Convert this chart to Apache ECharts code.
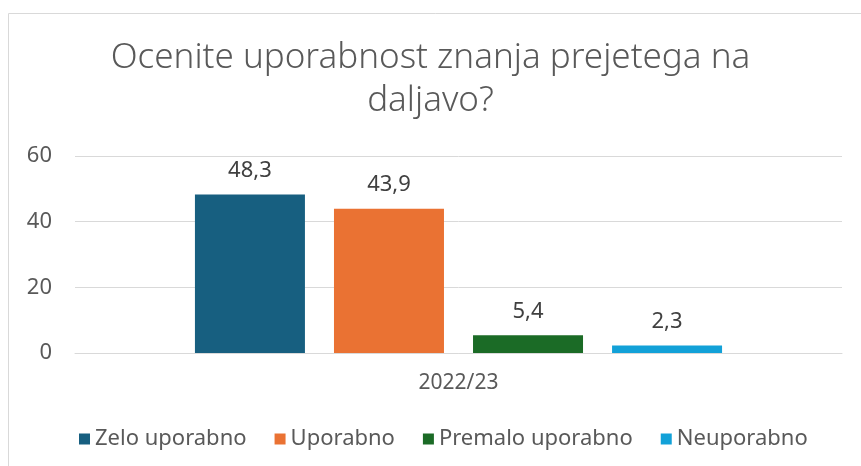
<!DOCTYPE html>
<html>
<head>
<meta charset="utf-8">
<script src="https://cdn.jsdelivr.net/npm/echarts@6/dist/echarts.min.js"></script>
<style>
  html, body { margin: 0; padding: 0; background: #fff; }
  #chart { width: 861px; height: 466px; }
</style>
</head>
<body>
<div id="chart"></div>
<script>
// Survey: usefulness of knowledge acquired through distance learning
const titleText = 'Ocenite uporabnost znanja prejetega na\ndaljavo?';
const categories = ['2022/23'];
const seriesNames = ['Zelo uporabno', 'Uporabno', 'Premalo uporabno', 'Neuporabno'];
const seriesValues = [[48.3], [43.9], [5.4], [2.3]];
const seriesColors = ['#175f80', '#ea7233', '#1b6b26', '#12a1d8'];
const yTicks = { min: 0, max: 60, interval: 20 };

const chart = echarts.init(document.getElementById('chart'), null, { renderer: 'canvas' });
const fontMain = '"Noto Sans", sans-serif';

const fmt = v => String(v).replace('.', ',');

chart.setOption({
  animation: false,
  textStyle: { fontFamily: fontMain },
  graphic: [{
    type: 'rect',
    shape: { x: 8.5, y: 13.5, width: 880, height: 480 },
    style: { fill: 'none', stroke: '#d9d9d9', lineWidth: 1 },
    silent: true
  }],
  title: {
    text: titleText,
    left: 'center',
    top: 32,
    textStyle: {
      fontFamily: fontMain,
      fontSize: 35,
      fontWeight: 300,
      color: '#595959',
      lineHeight: 43
    }
  },
  legend: {
    bottom: 11,
    left: 74,
    itemWidth: 11,
    itemHeight: 11,
    itemGap: 28,
    icon: 'rect',
    textStyle: { fontFamily: fontMain, fontSize: 22, color: '#595959' },
    data: seriesNames
  },
  grid: { left: 75, right: 19, top: 156, bottom: 113, containLabel: false },
  xAxis: {
    type: 'category',
    data: categories,
    axisLine: { show: true, lineStyle: { color: '#d9d9d9', width: 1 } },
    axisTick: { show: false },
    axisLabel: { fontFamily: fontMain, fontSize: 21, color: '#595959', margin: 20 }
  },
  yAxis: {
    type: 'value',
    min: yTicks.min,
    max: yTicks.max,
    interval: yTicks.interval,
    axisLine: { show: false },
    axisTick: { show: false },
    splitLine: { lineStyle: { color: '#d9d9d9', width: 1 } },
    axisLabel: { fontFamily: fontMain, fontSize: 22, color: '#595959', margin: 23 }
  },
  series: seriesNames.map((name, i) => ({
    name,
    type: 'bar',
    data: seriesValues[i],
    barWidth: 110,
    barGap: '26.4%',
    itemStyle: { color: seriesColors[i] },
    label: {
      show: true,
      position: 'top',
      distance: 13,
      formatter: p => fmt(p.value),
      fontFamily: fontMain,
      fontSize: 22,
      color: '#404040'
    }
  }))
});
</script>
</body>
</html>
